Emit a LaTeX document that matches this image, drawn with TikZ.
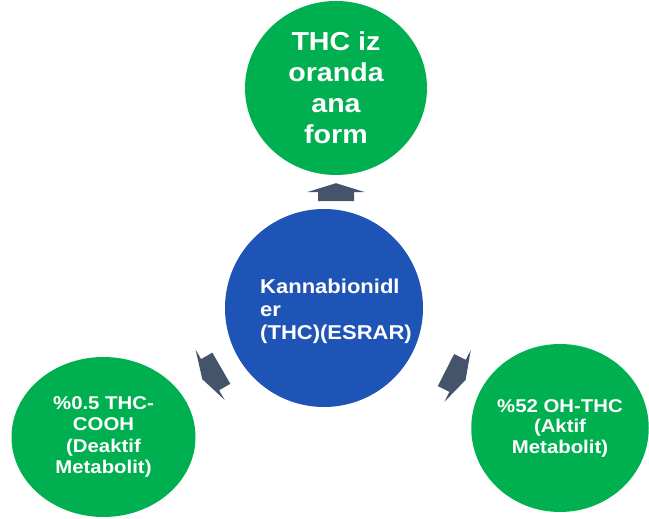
\documentclass[tikz,border=0pt]{standalone}
\usepackage{fontspec}
\setmainfont{Liberation Sans}[FakeStretch=1.1]
\usetikzlibrary{calc, shapes.geometric, positioning}
\definecolor{leafgreen}{HTML}{00B050}
\definecolor{hubblue}{HTML}{1E54B6}
\definecolor{slate}{HTML}{44546A}
\tikzset{
	outer/.style={ellipse, fill=leafgreen, text=white, align=center, inner sep=0pt},
	hub/.style={circle, fill=hubblue, minimum size=198pt, inner sep=0pt},
	blockarrow/.pic={\fill[slate] (0,0) -- (-9,29) -- (-9,18) -- (-9-#1,18) -- (-9-#1,-18) -- (-9,-18) -- (-9,-29) -- cycle;}
}
\begin{document}
\begin{tikzpicture}[x=1pt, y=1pt]
			\useasboundingbox (0,0) rectangle (649,519);
			\node[hub] (core) at (324,211) {};
			\node[text=white, align=left, font=\bfseries\fontsize{20}{23}\selectfont] (core label) at (336,208) {Kannabionidl\\er\\(THC)(ESRAR)};
			\node[outer, minimum width=182pt, minimum height=174pt, font=\bfseries\fontsize{26}{31}\selectfont] (top) at (336,431) {THC iz\\oranda\\ana\\form};
			\node[outer, minimum width=184pt, minimum height=160pt, font=\bfseries\fontsize{18.5}{21.5}\selectfont] (left) at (103.5,82) {\%0.5 THC-\\COOH\\(Deaktif\\Metabolit)};
			\node[outer, minimum width=170pt, minimum height=168pt, font=\bfseries\fontsize{18.5}{20.5}\selectfont] (right) at (560,91) {\%52 OH-THC\\(Aktif\\Metabolit)};
			\pic[rotate=90] at ($(top.south)+(0,-8)$) {blockarrow=9};
			\pic[rotate=210] at ($(core)!0.552!(left)$) {blockarrow=13};
			\pic[rotate=-27] at ($(core)!0.6!(right)$) {blockarrow=13};
		\end{tikzpicture}
\end{document}
